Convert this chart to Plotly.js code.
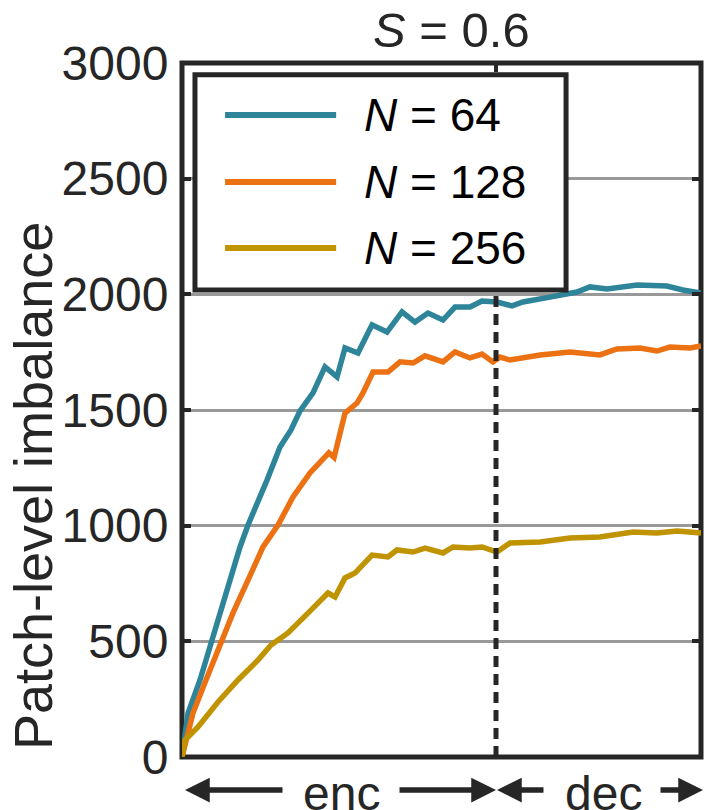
<!DOCTYPE html>
<html>
<head>
<meta charset="utf-8">
<script src="https://cdn.plot.ly/plotly-3.0.1.min.js"></script>
<style>html,body{margin:0;padding:0;background:#fff;}#chart{width:704px;height:810px;}</style>
</head>
<body>
<div id="chart"></div>
<script>
// Progress through the network (0-100, encoder then decoder)
const xN64 = [0,1.16,3.47,5.39,7.32,9.25,11.18,12.72,14.26,16.38,18.88,21.0,22.74,25.24,27.55,29.87,31.41,33.91,36.61,39.5,42.39,44.89,47.4,50.29,52.6,55.49,57.8,60.69,63.58,65.7,70.9,76.1,78.6,81.9,87.7,91.5,93.4,96.5,100];
const yN64 = [0,190,333,476,623,765,908,1003,1081,1197,1340,1414,1496,1574,1686,1643,1768,1746,1868,1837,1924,1880,1919,1889,1945,1945,1971,1967,1950,1967,1988,2010,2032,2023,2040,2040,2036,2019,2006];

const xN128 = [0,2.12,4.62,7.51,9.83,12.72,15.61,18.5,21.39,24.66,27.55,28.3,29.3,30.44,31.41,33.72,34.87,36.8,39.69,42.0,44.51,46.82,50.29,52.6,55.49,57.8,59.92,61.27,63.2,69.0,74.76,80.5,83.8,88.25,91.5,94.0,97.9,100];
const yN128 = [0,190,333,497,623,765,908,1003,1124,1228,1300,1315,1295,1401,1487,1530,1574,1664,1664,1708,1703,1734,1708,1751,1725,1742,1708,1729,1716,1738,1751,1738,1764,1768,1755,1772,1768,1777];

const xN256 = [0,0.58,3.08,6.94,10.79,14.64,17.15,20.42,24.86,28.13,29.48,31.41,33.33,36.61,39.69,41.43,44.51,46.82,50.29,52.22,55.49,57.8,60.69,63.2,69.0,74.76,80.5,86.9,91.5,95.4,100];
const yN256 = [0,73,130,238,333,419,484,536,635,709,692,774,795,873,865,895,886,903,882,908,903,908,886,925,929,947,951,973,968,977,968];

const seriesNames = ['<i>N</i> = 64', '<i>N</i> = 128', '<i>N</i> = 256'];
const seriesColors = ['#2E8599', '#EC7113', '#C09300'];
const yTicks = [0, 500, 1000, 1500, 2000, 2500, 3000];
const encDecBoundary = 60.5;
const boundaryTop = 2000;
const titleText = '<i>S</i> = 0.6';
const yLabel = 'Patch-level imbalance';
const phaseLabels = ['enc', 'dec'];

const ink = '#262626';
const FONT = '"Liberation Sans", Arial, Helvetica, sans-serif';

const xs = [xN64, xN128, xN256];
const ys = [yN64, yN128, yN256];
const traces = xs.map((x, i) => ({
  x: x, y: ys[i], type: 'scatter', mode: 'lines', name: seriesNames[i],
  line: {color: seriesColors[i], width: 5.5}, showlegend: false, hoverinfo: 'skip'
}));

// manual legend geometry (paper coords)
const legX0 = 0.025, legX1 = 0.740, legY0 = 0.673, legY1 = 0.983;
const legRowY = [0.925, 0.8285, 0.7334];
const shapes = [
  {type: 'line', xref: 'x', yref: 'y', x0: encDecBoundary, x1: encDecBoundary, y0: 0, y1: boundaryTop,
   line: {color: ink, width: 5, dash: '11px,7px'}, layer: 'above'},
  {type: 'rect', xref: 'paper', yref: 'paper', x0: 0, x1: 1, y0: 0, y1: 1,
   line: {color: ink, width: 5}, layer: 'between'},
  {type: 'rect', xref: 'paper', yref: 'paper', x0: legX0, x1: legX1, y0: legY0, y1: legY1,
   line: {color: ink, width: 5}, fillcolor: '#ffffff', layer: 'above'}
];
legRowY.forEach((yy, i) => shapes.push({
  type: 'line', xref: 'paper', yref: 'paper', x0: 0.083, x1: 0.297, y0: yy, y1: yy,
  line: {color: seriesColors[i], width: 6}, layer: 'above'
}));

const annotations = [];
legRowY.forEach((yy, i) => annotations.push({
  xref: 'paper', yref: 'paper', x: 0.347, y: yy, xanchor: 'left', yanchor: 'middle',
  text: seriesNames[i], showarrow: false, font: {family: FONT, size: 46, color: '#000'}
}));
annotations.push({xref: 'paper', yref: 'paper', x: 0.519, y: 1.047, xanchor: 'center', yanchor: 'middle',
  text: titleText, showarrow: false, font: {family: FONT, size: 49, color: ink}});
annotations.push({xref: 'paper', yref: 'paper', x: -0.287, y: 0.3905, xanchor: 'center', yanchor: 'middle',
  textangle: -90, text: yLabel, showarrow: false, font: {family: FONT, size: 54, color: ink}});
// phase labels
annotations.push({xref: 'paper', yref: 'paper', x: (341-182)/519, y: -0.052, xanchor: 'center', yanchor: 'middle',
  text: phaseLabels[0], showarrow: false, font: {family: FONT, size: 48, color: ink}});
annotations.push({xref: 'paper', yref: 'paper', x: (603-182)/519, y: -0.052, xanchor: 'center', yanchor: 'middle',
  text: phaseLabels[1], showarrow: false, font: {family: FONT, size: 48, color: ink}});
// arrows
const arrowY = -0.0476;
const arrowDefs = [
  {tip: 185, len: 99}, {tip: 496, len: -98}, {tip: 497, len: 48}, {tip: 706, len: -47}
];
arrowDefs.forEach(a => annotations.push({
  xref: 'paper', yref: 'paper', x: (a.tip-182)/519, y: arrowY, ax: a.len, ay: 0,
  axref: 'pixel', ayref: 'pixel', text: '', showarrow: true, arrowhead: 2, arrowsize: 0.9,
  arrowwidth: 5.5, arrowcolor: ink, standoff: 0, startstandoff: 0
}));

const layout = {
  width: 704, height: 810,
  margin: {l: 182, r: 3, t: 63, b: 53},
  paper_bgcolor: '#fff', plot_bgcolor: '#fff',
  showlegend: false,
  font: {family: FONT, color: ink},
  xaxis: {range: [0, 100], showgrid: false, zeroline: false,
    showline: true, linewidth: 1, linecolor: 'rgba(0,0,0,0)',
    tickvals: [encDecBoundary], ticks: 'inside', ticklen: 9, tickwidth: 4, tickcolor: ink,
    mirror: 'ticks', showticklabels: false, fixedrange: true},
  yaxis: {range: [0, 3000], tickvals: yTicks, ticks: 'inside', ticklen: 9, tickwidth: 4, tickcolor: ink,
    showline: true, linewidth: 1, linecolor: 'rgba(0,0,0,0)',
    mirror: 'ticks', zeroline: false, showgrid: true, gridcolor: '#999999', gridwidth: 3,
    ticklabelstandoff: 3,
    tickfont: {family: FONT, size: 48, color: ink}, fixedrange: true},
  shapes: shapes,
  annotations: annotations
};

Plotly.newPlot('chart', traces, layout, {displayModeBar: false, staticPlot: true});
</script>
</body>
</html>
